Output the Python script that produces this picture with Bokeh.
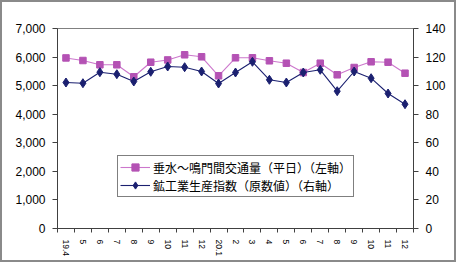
from bokeh.plotting import figure
from bokeh.models import (Range1d, LinearAxis, FixedTicker, NumeralTickFormatter,
                          Legend, LegendItem)
from bokeh.embed import file_html
from bokeh.resources import INLINE

months = ["19.4", "5", "6", "7", "8", "9", "10", "11", "12", "20.1",
          "2", "3", "4", "5", "6", "7", "8", "9", "10", "11", "12"]
traffic = [5970, 5880, 5730, 5730, 5310, 5820, 5900, 6080, 6010, 5345,
           5975, 5975, 5870, 5785, 5460, 5785, 5380, 5635, 5835, 5820, 5435]
production = [102.2, 101.7, 109.4, 108.0, 102.9, 109.7, 113.4, 112.9, 109.9, 101.5,
              109.2, 116.7, 104.1, 102.2, 109.2, 111.1, 96.1, 109.9, 105.2, 94.5, 87.0]
left_ticks = [0, 1000, 2000, 3000, 4000, 5000, 6000, 7000]
right_ticks = [0, 20, 40, 60, 80, 100, 120, 140]
label1 = "垂水～鳴門間交通量（平日）（左軸）"
label2 = "鉱工業生産指数（原数値）（右軸）"

xs = list(range(len(months)))
n = len(months)

FONT = "Liberation Sans"
AXIS_COL = "#808080"
SPACER = "\u00a0"

p = figure(width=456, height=262, output_backend="svg", toolbar_location=None,
           x_range=Range1d(-0.5, n - 0.5), y_range=Range1d(0, 7000),
           min_border_left=0, min_border_right=45, min_border_top=26, min_border_bottom=36)
p.styles = {"border": "2px solid #8a8a8a"}
p.xgrid.visible = False
p.ygrid.visible = False
p.outline_line_color = AXIS_COL
p.outline_line_width = 1
p.background_fill_color = "white"
p.border_fill_color = "white"

p.extra_y_ranges = {"right": Range1d(0, 140)}

# x axis
xa = p.xaxis[0]
xa.ticker = FixedTicker(ticks=xs, minor_ticks=[i - 0.5 for i in range(n + 1)])
xa.major_label_overrides = {i: m for i, m in enumerate(months)}
xa.major_label_orientation = "vertical"
xa.major_tick_line_color = None
xa.minor_tick_in = 0
xa.minor_tick_out = 4
xa.minor_tick_line_color = "#404040"
xa.axis_line_color = "#404040"
xa.major_label_text_font = FONT
xa.major_label_text_font_size = "8.5px"
xa.major_label_text_color = "black"
xa.major_label_standoff = 5

# left axis (invisible spacer label pads the outer side)
ya = p.yaxis[0]
ya.ticker = FixedTicker(ticks=left_ticks)
ya.formatter = NumeralTickFormatter(format="0,0")
ya.minor_tick_line_color = None
ya.major_tick_in = 0
ya.major_tick_out = 5
ya.major_tick_line_color = "#404040"
ya.axis_line_color = "#404040"
ya.major_label_text_font = FONT
ya.major_label_text_font_size = "12px"
ya.major_label_text_color = "black"
ya.major_label_standoff = 7
ya.axis_label = SPACER
ya.axis_label_text_font_size = "7px"
ya.axis_label_standoff = 0

# right axis
ra = LinearAxis(y_range_name="right", ticker=FixedTicker(ticks=right_ticks))
ra.minor_tick_line_color = None
ra.major_tick_in = 0
ra.major_tick_out = 5
ra.major_tick_line_color = "#404040"
ra.axis_line_color = "#404040"
ra.major_label_text_font = FONT
ra.major_label_text_font_size = "12px"
ra.major_label_text_color = "black"
ra.major_label_standoff = 7
p.add_layout(ra, "right")

PINK_L = "#CC77CC"
PINK_M = "#B452B4"
NAVY = "#1B2070"

l1 = p.line(xs, traffic, line_color=PINK_L, line_width=1.1)
s1 = p.scatter(xs, traffic, marker="square", size=6.5, fill_color=PINK_M, line_color=PINK_M)
l2 = p.line(xs, production, line_color=NAVY, line_width=1.1, y_range_name="right")
s2 = p.scatter(xs, production, marker="diamond", size=9, fill_color=NAVY, line_color=NAVY,
               y_range_name="right")

legend = Legend(items=[LegendItem(label=label1, renderers=[l1, s1]),
                       LegendItem(label=label2, renderers=[l2, s2])],
                location=(60, 31), orientation="vertical")
legend.label_text_font = "Noto Sans CJK JP"
legend.label_text_font_size = "12px"
legend.label_text_color = "black"
legend.border_line_color = "black"
legend.border_line_width = 1
legend.padding = 2
legend.spacing = 0
legend.margin = 0
legend.glyph_width = 30
legend.glyph_height = 18
legend.label_height = 18
legend.label_standoff = 3
legend.background_fill_alpha = 1
p.add_layout(legend, "center")

html = file_html(p, INLINE)
open("out.html", "w").write(html)
